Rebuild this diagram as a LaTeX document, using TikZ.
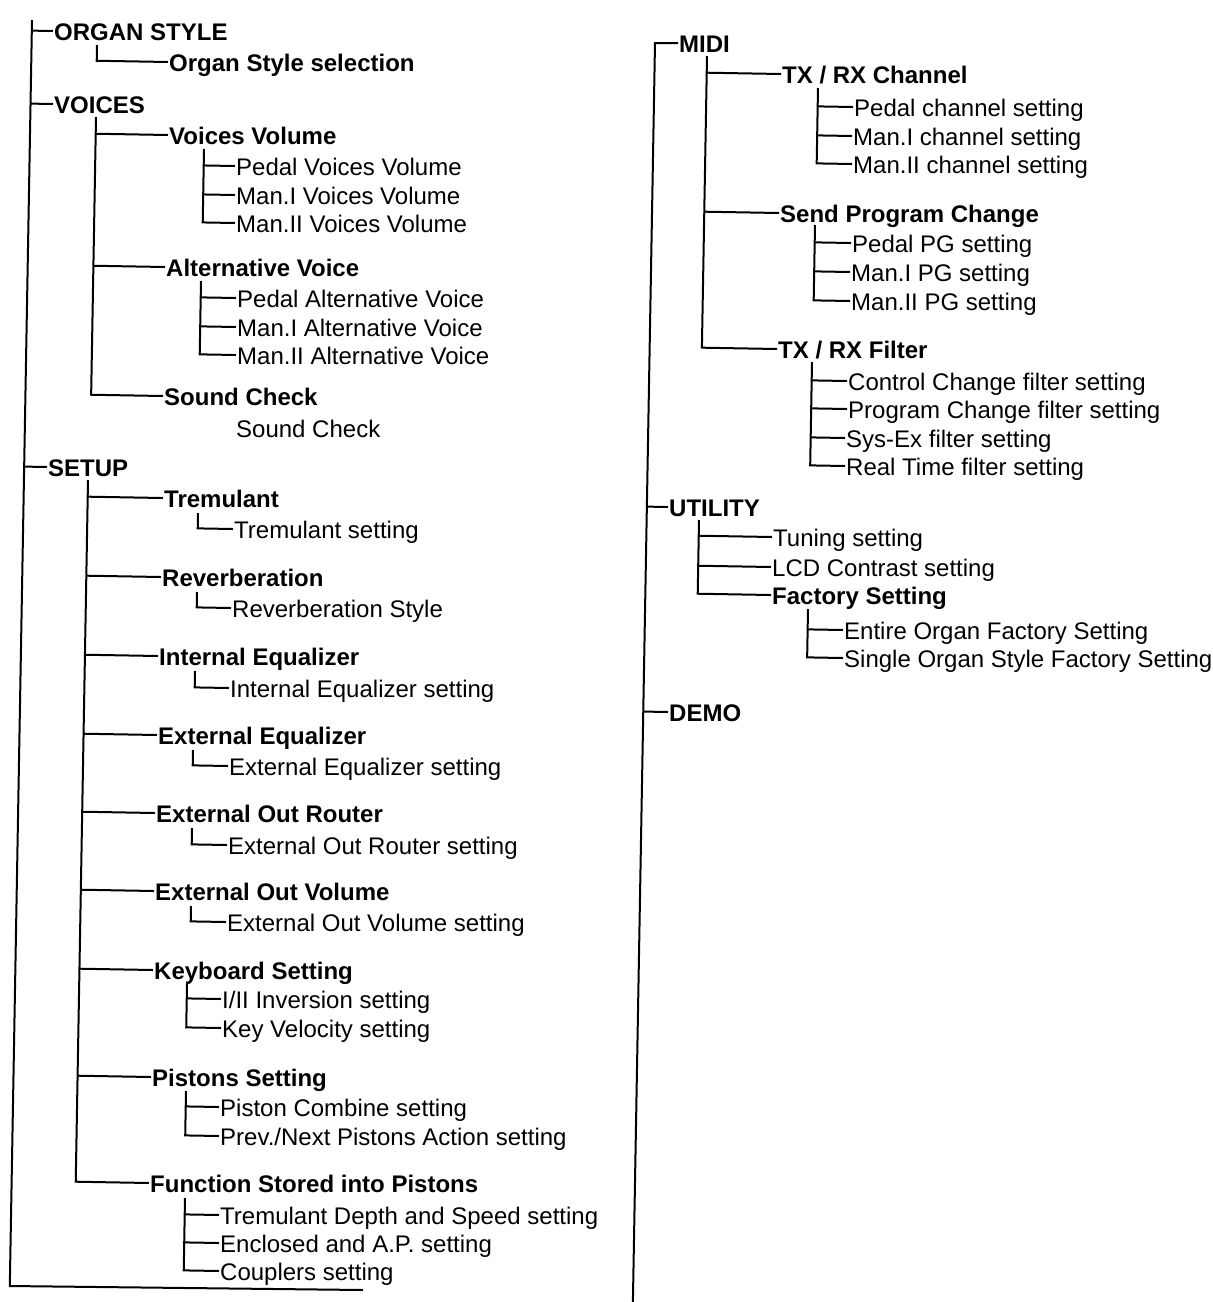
\documentclass[tikz,border=0pt]{standalone}
\usepackage{fontspec}
\setmainfont{Liberation Sans}
\usetikzlibrary{calc}

\tikzset{
  item/.style={anchor=west, inner sep=1pt, text height=19pt, text depth=0pt,
    font=\fontsize{24}{28}\selectfont},
  head/.style={item, font=\fontsize{24}{28}\selectfont\bfseries},
  link/.style={line width=2pt},
}
% a trunk: its top point and a second point down its (slightly tilted) line
\newcommand{\trunk}[3]{\coordinate (#1) at (#2,#3); \coordinate (#1d) at ($(#1)+(-17.5,1000)$);}
\newcommand{\twig}[2]{\draw[link] ($(#1)!(#2.west)!(#1d)$) -- (#2.west);}
\newcommand{\elbow}[2]{\draw[link] (#1) -- ($(#1)!(#2.west)!(#1d)$) -- (#2.west);}

\begin{document}
\begin{tikzpicture}[x=1pt,y=-1pt]
\useasboundingbox (0,0) rectangle (1213,1302);

% left column
\trunk{L}{32}{20}
\coordinate (Lend) at (363,1290);
\draw[link] (L) -- ($(L)+(-22.2,1266)$) -- (Lend);
\node[head] (organ) at (53,31) {ORGAN STYLE};
\node[head] (voices) at (53,104) {VOICES};
\node[head] (setup) at (47,467) {SETUP};
\twig{L}{organ} \twig{L}{voices} \twig{L}{setup}

\trunk{os}{97}{45}
\node[head] (orgsel) at (168,62) {Organ Style selection};
\elbow{os}{orgsel}

\trunk{vo}{96}{117}
\node[head] (vvol) at (168,135) {Voices Volume};
\node[head] (altv) at (165,267) {Alternative Voice};
\node[head] (sndchk) at (163,396) {Sound Check};
\node[item] (sndtxt) at (235,428) {Sound Check};
\twig{vo}{vvol} \twig{vo}{altv} \elbow{vo}{sndchk}

\trunk{vv}{204}{149}
\node[item] (pvv) at (235,166) {Pedal Voices Volume};
\node[item] (m1vv) at (235,195) {Man.I Voices Volume};
\node[item] (m2vv) at (235,223) {Man.II Voices Volume};
\twig{vv}{pvv} \twig{vv}{m1vv} \elbow{vv}{m2vv}

\trunk{av}{201}{281}
\node[item] (palt) at (236,298) {Pedal Alternative Voice};
\node[item] (m1alt) at (236,327) {Man.I Alternative Voice};
\node[item] (m2alt) at (236,355) {Man.II Alternative Voice};
\twig{av}{palt} \twig{av}{m1alt} \elbow{av}{m2alt}

\trunk{su}{88}{480}
\node[head] (trem) at (163,498) {Tremulant};
\node[head] (reverb) at (161,577) {Reverberation};
\node[head] (inteq) at (158,656) {Internal Equalizer};
\node[head] (exteq) at (157,735) {External Equalizer};
\node[head] (extrout) at (155,813) {External Out Router};
\node[head] (extvol) at (154,891) {External Out Volume};
\node[head] (keyb) at (153,970) {Keyboard Setting};
\node[head] (pist) at (151,1077) {Pistons Setting};
\node[head] (func) at (149,1183) {Function Stored into Pistons};
\foreach \n in {trem,reverb,inteq,exteq,extrout,extvol,keyb,pist} {\twig{su}{\n}}
\elbow{su}{func}

\trunk{tr}{198}{513}
\node[item] (tremset) at (233,529) {Tremulant setting};
\elbow{tr}{tremset}
\trunk{rv}{197}{592}
\node[item] (revstyle) at (231,608) {Reverberation Style};
\elbow{rv}{revstyle}
\trunk{ie}{195}{671}
\node[item] (inteqset) at (229,688) {Internal Equalizer setting};
\elbow{ie}{inteqset}
\trunk{ee}{193}{750}
\node[item] (exteqset) at (228,766) {External Equalizer setting};
\elbow{ee}{exteqset}
\trunk{er}{192}{828}
\node[item] (extroutset) at (227,845) {External Out Router setting};
\elbow{er}{extroutset}
\trunk{ev}{191}{906}
\node[item] (extvolset) at (226,922) {External Out Volume setting};
\elbow{ev}{extvolset}

\trunk{kb}{187}{984}
\node[item] (inv) at (221,999) {I/II Inversion setting};
\node[item] (vel) at (221,1028) {Key Velocity setting};
\twig{kb}{inv} \elbow{kb}{vel}

\trunk{ps}{186}{1091}
\node[item] (pcomb) at (219,1107) {Piston Combine setting};
\node[item] (pnext) at (219,1136) {Prev./Next Pistons Action setting};
\twig{ps}{pcomb} \elbow{ps}{pnext}

\trunk{fs}{185}{1198}
\node[item] (depth) at (219,1215) {Tremulant Depth and Speed setting};
\node[item] (encl) at (219,1243) {Enclosed and A.P. setting};
\node[item] (coupl) at (219,1271) {Couplers setting};
\twig{fs}{depth} \twig{fs}{encl} \elbow{fs}{coupl}

% right column
\trunk{R}{655}{43}
\node[head] (midi) at (678,43) {MIDI};
\node[head] (util) at (668,507) {UTILITY};
\node[head] (demo) at (668,712) {DEMO};
\draw[link] (midi.west) -- (R) -- ($(R)+(-22.1,1259)$);
\twig{R}{util} \twig{R}{demo}

\trunk{mi}{707}{56}
\node[head] (txch) at (781,74) {TX / RX Channel};
\node[head] (sendpc) at (779,213) {Send Program Change};
\node[head] (txfilt) at (777,349) {TX / RX Filter};
\twig{mi}{txch} \twig{mi}{sendpc} \elbow{mi}{txfilt}

\trunk{tc}{818}{88}
\node[item] (pedch) at (853,107) {Pedal channel setting};
\node[item] (m1ch) at (852,136) {Man.I channel setting};
\node[item] (m2ch) at (852,164) {Man.II channel setting};
\twig{tc}{pedch} \twig{tc}{m1ch} \elbow{tc}{m2ch}

\trunk{sp}{815}{225}
\node[item] (pedpg) at (851,243) {Pedal PG setting};
\node[item] (m1pg) at (850,272) {Man.I PG setting};
\node[item] (m2pg) at (850,301) {Man.II PG setting};
\twig{sp}{pedpg} \twig{sp}{m1pg} \elbow{sp}{m2pg}

\trunk{tf}{812}{362}
\node[item] (ccf) at (847,381) {Control Change filter setting};
\node[item] (pcf) at (847,409) {Program Change filter setting};
\node[item] (sysex) at (845,438) {Sys-Ex filter setting};
\node[item] (rtf) at (845,466) {Real Time filter setting};
\twig{tf}{ccf} \twig{tf}{pcf} \twig{tf}{sysex} \elbow{tf}{rtf}

\trunk{ut}{699}{520}
\node[item] (tune) at (772,537) {Tuning setting};
\node[item] (lcd) at (771,567) {LCD Contrast setting};
\node[head] (factory) at (771,595) {Factory Setting};
\twig{ut}{tune} \twig{ut}{lcd} \elbow{ut}{factory}

\trunk{fa}{808}{609}
\node[item] (entire) at (843,630) {Entire Organ Factory Setting};
\node[item] (single) at (843,658) {Single Organ Style Factory Setting};
\twig{fa}{entire} \elbow{fa}{single}
\end{tikzpicture}
\end{document}
